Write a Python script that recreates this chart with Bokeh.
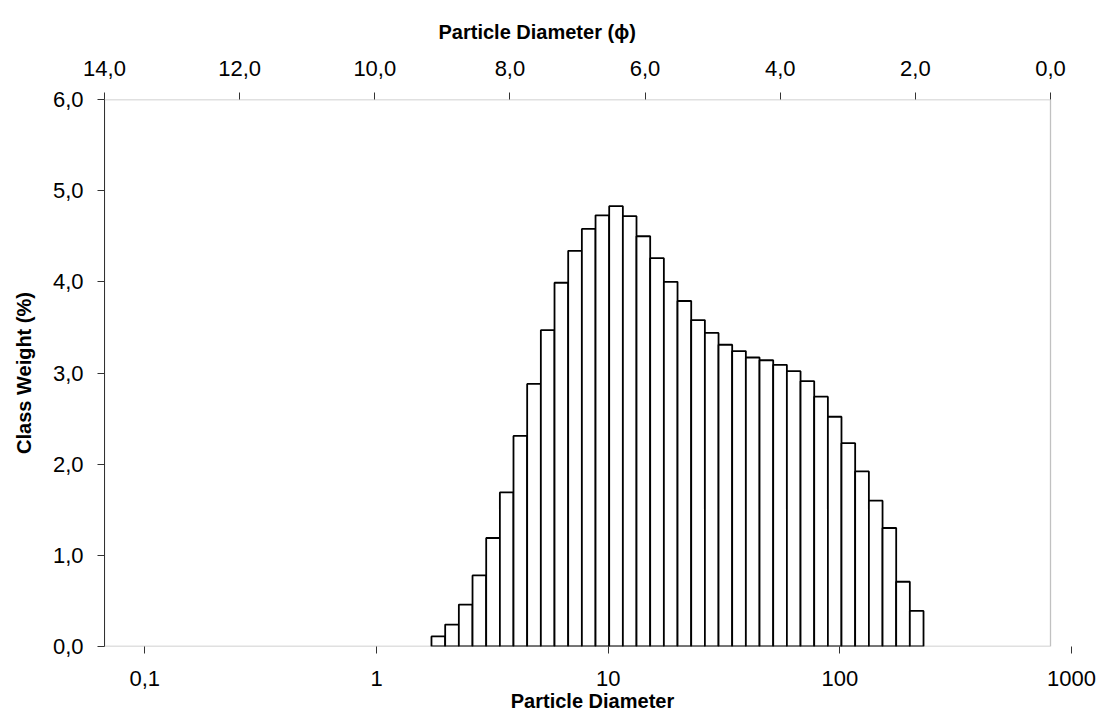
from bokeh.plotting import figure
from bokeh.models import (Range1d, LinearAxis, LinearScale, FixedTicker,
                          CustomJSTickFormatter, BoxAnnotation, Title, ColumnDataSource)
from bokeh.embed import file_html
from bokeh.resources import INLINE

# Class boundaries (particle diameter, micrometres) and class weights (%)
bin_edges_um = [1.727, 1.979, 2.267, 2.597, 2.975, 3.408, 3.902, 4.470, 5.121,
                5.866, 6.720, 7.698, 8.818, 10.10, 11.57, 13.25, 15.18, 17.39,
                19.92, 22.82, 26.14, 29.94, 34.29, 39.28, 45.00, 51.55, 59.05,
                67.64, 77.48, 88.75, 101.6, 116.4, 133.4, 152.8, 175.0, 200.4, 229.6]
class_weight = [0.11, 0.24, 0.46, 0.78, 1.19, 1.69, 2.31, 2.88, 3.47, 3.99,
                4.34, 4.58, 4.73, 4.83, 4.72, 4.50, 4.26, 4.00, 3.79, 3.58,
                3.44, 3.31, 3.24, 3.17, 3.14, 3.09, 3.02, 2.91, 2.74, 2.52,
                2.23, 1.92, 1.60, 1.30, 0.71, 0.39]
y_ticks = [0, 1, 2, 3, 4, 5, 6]
phi_ticks = [0, 2, 4, 6, 8, 10, 12, 14]
d_ticks = [0.1, 1, 10, 100, 1000]

FONT = "Liberation Sans"
TICK_SIZE = "22px"
TITLE_SIZE = "20px"

src = ColumnDataSource(dict(left=bin_edges_um[:-1], right=bin_edges_um[1:],
                            top=class_weight, bottom=[0] * len(class_weight)))

p = figure(width=1097, height=714, x_axis_type="log",
           x_range=Range1d(0.0670, 1092.7), y_range=Range1d(0, 6),
           output_backend="svg", toolbar_location=None, title=None,
           min_border_left=104, min_border_right=17, min_border_top=99,
           min_border_bottom=68)
p.extra_x_ranges = {"phi": Range1d(14, -0.444)}
p.extra_x_scales = {"phi": LinearScale()}
p.xgrid.visible = False
p.ygrid.visible = False
p.outline_line_color = None
p.background_fill_color = "white"
p.border_fill_color = "white"

p.quad(source=src, left="left", right="right", top="top", bottom="bottom",
       fill_color="white", line_color="black", line_width=1.8)

comma_fmt = CustomJSTickFormatter(code="return tick.toFixed(1).replace('.', ',');")

# left axis
yax = p.yaxis[0]
yax.ticker = FixedTicker(ticks=y_ticks)
yax.formatter = comma_fmt
yax.major_tick_out = 7
yax.major_tick_in = 0
yax.minor_tick_out = 0
yax.minor_tick_in = 0
yax.axis_line_color = "#333333"
yax.major_tick_line_color = "#333333"
yax.major_label_text_font = FONT
yax.major_label_text_font_size = TICK_SIZE
yax.major_label_text_color = "black"
yax.major_label_standoff = 14
yax.axis_label = "Class Weight (%)"
yax.axis_label_text_font = FONT
yax.axis_label_text_font_size = TITLE_SIZE
yax.axis_label_text_font_style = "bold"
yax.axis_label_text_color = "black"
yax.axis_label_standoff = 15

# bottom log axis (diameter)
xax = p.xaxis[0]
xax.ticker = FixedTicker(ticks=d_ticks)
xax.formatter = CustomJSTickFormatter(
    code="return tick < 1 ? tick.toString().replace('.', ',') : tick.toFixed(0);")
xax.axis_line_color = None
xax.major_tick_out = 7
xax.major_tick_in = 0
xax.minor_tick_out = 0
xax.minor_tick_in = 0
xax.major_tick_line_color = "#333333"
xax.major_label_text_font = FONT
xax.major_label_text_font_size = TICK_SIZE
xax.major_label_text_color = "black"
xax.major_label_standoff = 17
xax.axis_label = "Particle Diameter"
xax.axis_label_text_font = FONT
xax.axis_label_text_font_size = TITLE_SIZE
xax.axis_label_text_font_style = "bold"
xax.axis_label_text_color = "black"
xax.axis_label_standoff = 1

# top phi axis
tax = LinearAxis(x_range_name="phi", ticker=FixedTicker(ticks=phi_ticks),
                 formatter=comma_fmt)
tax.axis_line_color = None
tax.major_tick_out = 7
tax.major_tick_in = 0
tax.minor_tick_out = 0
tax.minor_tick_in = 0
tax.major_tick_line_color = "#333333"
tax.major_label_text_font = FONT
tax.major_label_text_font_size = TICK_SIZE
tax.major_label_text_color = "black"
tax.major_label_standoff = 17
p.add_layout(tax, "above")

top_title = Title(text="Particle Diameter (\u03d5)", align="left", offset=334,
                  standoff=26, vertical_align="top", text_font=FONT,
                  text_font_size=TITLE_SIZE, text_font_style="bold",
                  text_color="black")
p.add_layout(top_title, "above")

# plot-area border
frame_box = BoxAnnotation(left=14, right=0, bottom=0, top=6, x_range_name="phi",
                          fill_alpha=0, line_color="#333333", line_width=1.3)
p.add_layout(frame_box)

open("out.html", "w").write(file_html(p, INLINE))
